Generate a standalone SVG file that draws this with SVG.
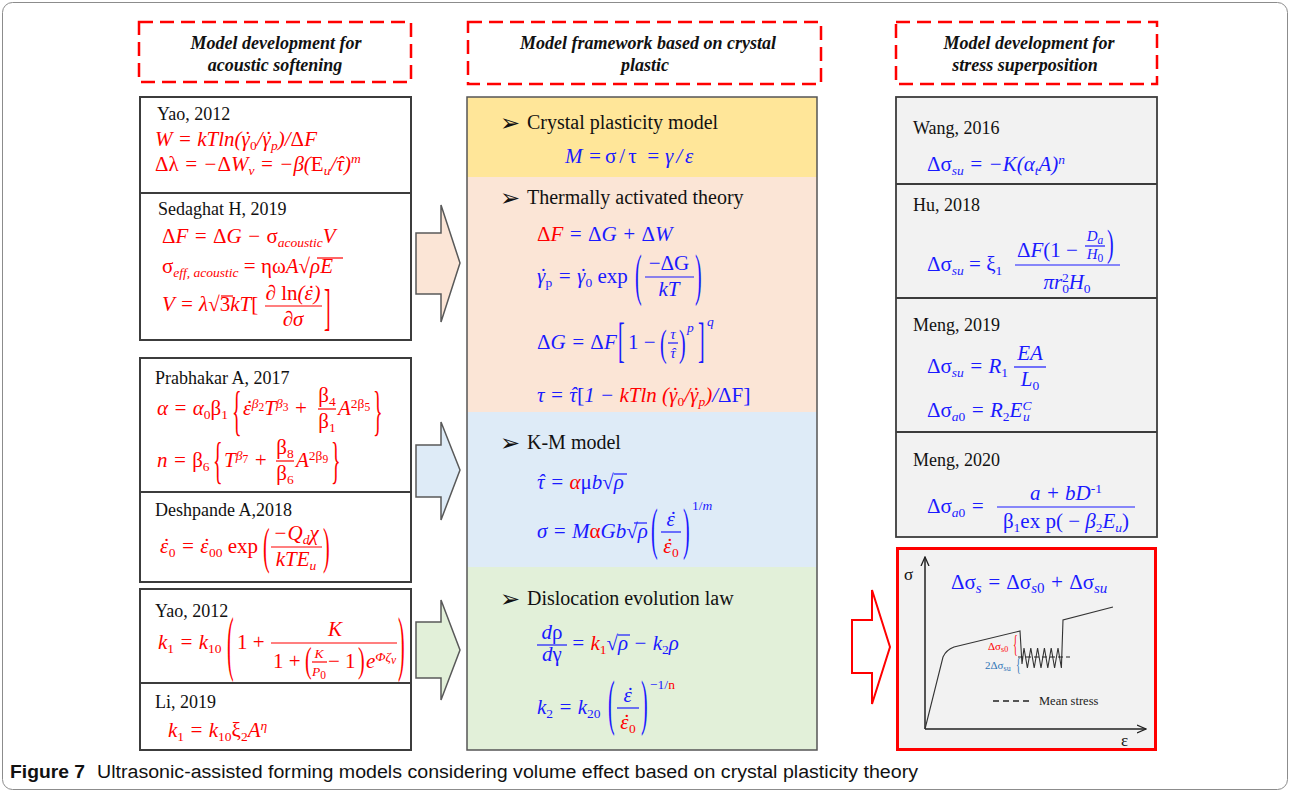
<svg xmlns="http://www.w3.org/2000/svg" width="1290" height="794" viewBox="0 0 1290 794">
<style>
text{font-family:"Liberation Serif",serif}
.au{font-size:18px;fill:#111}
.bl{font-size:20px;fill:#111}
.bu{font-family:"DejaVu Sans",sans-serif;font-size:24px;fill:#111}
.hd{font-size:18px;font-weight:bold;font-style:italic;fill:#111;text-anchor:middle}
.m{font-family:"Liberation Serif",serif;font-size:21px;font-style:italic}
.u{font-style:normal}
.s{font-size:13.5px}
.x{font-size:11.5px}
.sm{font-size:15px}
.r{fill:#ff0000}
.b{fill:#1a1aff}
.c{text-anchor:middle}
.d{font-family:"Liberation Serif",serif;font-size:20px;font-style:normal}
.lr{stroke:#ff0000;stroke-width:1.2}
.lb{stroke:#1a1aff;stroke-width:1.2}
.box{fill:#fff;stroke:#3c3c3c;stroke-width:2}
.div{stroke:#3c3c3c;stroke-width:2}
.dash{fill:none;stroke:#ff0000;stroke-width:2.5;stroke-dasharray:14 7}
.arr{stroke:#595959;stroke-width:1.5}
</style>
<defs>
<marker id="ah" viewBox="0 0 10 10" refX="9" refY="5" markerUnits="userSpaceOnUse" markerWidth="10" markerHeight="10" orient="auto"><path d="M0,1 L9,5 L0,9" fill="none" stroke="#222" stroke-width="1.3"/></marker>
</defs>
<rect x="2.5" y="2.5" width="1285" height="787" rx="10" fill="#fff" stroke="#8c8c8c" stroke-width="1"/>

<g id="hdr-left"><rect class="dash" x="139" y="22" width="272" height="60"/><text class="hd" x="276" y="49">Model development for</text><text class="hd" x="275" y="71">acoustic softening</text></g>
<g id="hdr-mid"><rect class="dash" x="468" y="22" width="353" height="62"/><text class="hd" x="648" y="49">Model framework based on crystal</text><text class="hd" x="645" y="71">plastic</text></g>
<g id="hdr-right"><rect class="dash" x="896" y="22" width="261" height="62"/><text class="hd" x="1029" y="49">Model development for</text><text class="hd" x="1025" y="71">stress superposition</text></g>

<g id="left-box1">
<rect class="box" x="140" y="97" width="271" height="243"/>
<line class="div" x1="140" y1="193" x2="411" y2="193"/>
<text class="au" x="157" y="120">Yao, 2012</text>
<text class="m r" x="155" y="146">W = kTln(γ<tspan dx="-6.8">˙</tspan><tspan class="s u" dy="4">0</tspan><tspan dy="-4">/γ</tspan><tspan dx="-6.8">˙</tspan><tspan class="s" dy="4">p</tspan><tspan dy="-4">)/</tspan><tspan class="u">Δ</tspan>F</text>
<text class="m r" x="155" y="171"><tspan class="u">Δλ</tspan> = −<tspan class="u">Δ</tspan>W<tspan class="s" dy="4">v</tspan><tspan dy="-4"> = −β(</tspan><tspan class="u">E</tspan><tspan class="s" dy="4">u</tspan><tspan dy="-4">/τ</tspan><tspan dx="-6.8">ˆ</tspan><tspan>)</tspan><tspan class="s" dy="-8">m</tspan></text>
<text class="au" x="158" y="215">Sedaghat H, 2019</text>
<text class="m r" x="162" y="243"><tspan class="u">Δ</tspan>F = <tspan class="u">Δ</tspan>G − <tspan class="u">σ</tspan><tspan class="s" dy="4">acoustic</tspan><tspan dy="-4">V</tspan></text>
<text class="m r" x="162" y="273"><tspan class="u">σ</tspan><tspan class="s" dy="4">eff, acoustic</tspan><tspan dy="-4" class="u"> = ηω</tspan>A<tspan class="u">√</tspan>ρE</text>
<line class="lr" x1="317" y1="258" x2="343" y2="258"/>
<text class="m r" x="162" y="311">V = λ<tspan class="u">√3</tspan>kT<tspan class="u">[</tspan></text>
<line class="lr" x1="221" y1="296" x2="233" y2="296"/>
<text class="m r c" x="293" y="300">∂ <tspan class="u">ln</tspan>(ε<tspan dx="-6.5">˙</tspan>)</text>
<line class="lr" x1="265" y1="306" x2="322" y2="306"/>
<text class="m r c" x="293" y="326">∂σ</text>
<text class="d r" transform="translate(324,324) scale(1,2.56)">]</text>
</g>

<g id="left-box2">
<rect class="box" x="140" y="358" width="271" height="224"/>
<line class="div" x1="140" y1="492" x2="411" y2="492"/>
<text class="au" x="155" y="384">Prabhakar A, 2017</text>
<text class="m r" x="157" y="415">α = α<tspan class="s u" dy="4">0</tspan><tspan dy="-4" class="u">β</tspan><tspan class="s u" dy="4">1</tspan></text>
<text class="d r" transform="translate(232,428.5) scale(1,2.75)">{</text>
<text class="m r" x="243" y="415">ε<tspan dx="-6.5">˙</tspan><tspan class="s" dy="-7">β</tspan><tspan class="x u" dy="3">2</tspan><tspan dy="4">T</tspan><tspan class="s" dy="-7">β</tspan><tspan class="x u" dy="3">3</tspan><tspan dy="4"> + </tspan></text>
<text class="m r u c" x="327" y="402">β<tspan class="s" dy="4">4</tspan></text>
<line class="lr" x1="318" y1="409" x2="336" y2="409"/>
<text class="m r u c" x="327" y="428">β<tspan class="s" dy="4">1</tspan></text>
<text class="m r" x="338" y="415">A<tspan class="s u" dy="-7">2β</tspan><tspan class="x u" dy="3">5</tspan></text>
<text class="d r" transform="translate(373,428.5) scale(1,2.75)">}</text>
<text class="m r" x="157" y="467">n = <tspan class="u">β</tspan><tspan class="s u" dy="4">6</tspan></text>
<text class="d r" transform="translate(213,477) scale(1,2.5)">{</text>
<text class="m r" x="224" y="467">T<tspan class="s" dy="-7">β</tspan><tspan class="x u" dy="3">7</tspan><tspan dy="4"> + </tspan></text>
<text class="m r u c" x="285" y="454">β<tspan class="s" dy="4">8</tspan></text>
<line class="lr" x1="276" y1="461" x2="294" y2="461"/>
<text class="m r u c" x="285" y="480">β<tspan class="s" dy="4">6</tspan></text>
<text class="m r" x="296" y="467">A<tspan class="s u" dy="-7">2β</tspan><tspan class="x u" dy="3">9</tspan></text>
<text class="d r" transform="translate(331,477) scale(1,2.5)">}</text>
<text class="au" x="155" y="516">Deshpande A,2018</text>
<text class="m r" x="160" y="553">ε<tspan dx="-6.5">˙</tspan><tspan class="s u" dy="4">0</tspan><tspan dy="-4"> = ε</tspan><tspan dx="-6.5">˙</tspan><tspan class="s u" dy="4">00</tspan><tspan dy="-4" class="u"> exp</tspan></text>
<text class="d r" transform="translate(263,563) scale(1,2.5)">(</text>
<text class="m r c" x="296" y="540">−Q<tspan class="s" dy="4">d</tspan><tspan dy="-4">χ</tspan></text>
<line class="lr" x1="271" y1="547" x2="322" y2="547"/>
<text class="m r c" x="296" y="566">kTE<tspan class="s" dy="4">u</tspan></text>
<text class="d r" transform="translate(323,563) scale(1,2.5)">)</text>
</g>

<g id="left-box3">
<rect class="box" x="140" y="589" width="271" height="161"/>
<line class="div" x1="140" y1="683" x2="411" y2="683"/>
<text class="au" x="155" y="617">Yao, 2012</text>
<text class="m r" x="158" y="649">k<tspan class="s u" dy="4">1</tspan><tspan dy="-4"> = k</tspan><tspan class="s u" dy="4">10</tspan></text>
<text class="d r" transform="translate(227,667) scale(1,3.6)">(</text>
<text class="m r u" x="237" y="649">1 +</text>
<text class="m r c" x="335" y="636">K</text>
<line class="lr" x1="271" y1="643" x2="397" y2="643"/>
<text class="m r u" x="273" y="668">1 + </text>
<text class="d r" transform="translate(305,672) scale(1,1.74)">(</text>
<text class="m r c s" x="319" y="658">K</text>
<line class="lr" x1="312" y1="662" x2="327" y2="662"/>
<text class="m r c s" x="319" y="676">P<tspan class="x u" dy="3">0</tspan></text>
<text class="m r u" x="328" y="668"> − 1</text>
<text class="d r" transform="translate(358,672) scale(1,1.74)">)</text>
<text class="m r" x="366" y="668">e<tspan class="s" dy="-7">Φζ</tspan><tspan class="x" dy="3">v</tspan></text>
<text class="d r" transform="translate(398,667) scale(1,3.6)">)</text>
<text class="au" x="155" y="708">Li, 2019</text>
<text class="m r" x="168" y="737">k<tspan class="s u" dy="4">1</tspan><tspan dy="-4"> = k</tspan><tspan class="s u" dy="4">10</tspan><tspan dy="-4" class="u">ξ</tspan><tspan class="s u" dy="4">2</tspan><tspan dy="-4">A</tspan><tspan class="s" dy="-7">η</tspan></text>
</g>

<g id="mid-framework">
<rect x="467" y="97" width="350" height="80" fill="#FFE699"/>
<rect x="467" y="177" width="350" height="235" fill="#FBE5D6"/>
<rect x="467" y="412" width="350" height="155" fill="#DEEBF7"/>
<rect x="467" y="567" width="350" height="183" fill="#E2F0D9"/>
<rect x="467" y="97" width="350" height="653" fill="none" stroke="#555" stroke-width="1.5"/>
<text class="bu" x="500" y="131">➢</text><text class="bl" x="527" y="129">Crystal plasticity model</text>
<text class="m b" y="163"><tspan x="565">M =</tspan><tspan x="605" class="u" style="letter-spacing:3px">σ/τ</tspan><tspan x="646">=</tspan><tspan x="665" style="letter-spacing:3px">γ/ε</tspan></text>
<text class="bu" x="500" y="206">➢</text><text class="bl" x="527" y="204">Thermally activated theory</text>
<text class="m b" x="537" y="241"><tspan class="r"><tspan class="u">Δ</tspan>F</tspan> = <tspan class="u">Δ</tspan>G + <tspan class="u">Δ</tspan>W</text>
<text class="m b" x="537" y="283">γ<tspan dx="-6.8">˙</tspan><tspan class="s u" dy="4">p</tspan><tspan dy="-4"> = γ</tspan><tspan dx="-6.8">˙</tspan><tspan class="s u" dy="4">0</tspan><tspan dy="-4" class="u"> exp</tspan></text>
<text class="d b" transform="translate(635,293.7) scale(1,2.85)">(</text>
<text class="m b u c" x="669" y="270">−ΔG</text>
<line class="lb" x1="645" y1="277" x2="694" y2="277"/>
<text class="m b c" x="669" y="296">kT</text>
<text class="d b" transform="translate(695,293.7) scale(1,2.85)">)</text>
<text class="m b" x="537" y="349"><tspan class="u">Δ</tspan>G = <tspan class="u">Δ</tspan>F</text>
<text class="d b" transform="translate(618,356.4) scale(1,2.46)">[</text>
<text class="m b u" x="628" y="349">1 −</text>
<text class="d b" transform="translate(660,356) scale(1,1.92)">(</text>
<text class="m b c sm" x="673" y="339">τ</text>
<line class="lb" x1="668" y1="343" x2="678" y2="343"/>
<text class="m b c sm" x="673" y="358">τ<tspan dx="-4.9">ˆ</tspan></text>
<text class="d b" transform="translate(679,356) scale(1,1.92)">)</text>
<text class="m b s" x="687" y="332">p</text>
<text class="d b" transform="translate(698,356.4) scale(1,2.46)">]</text>
<text class="m b s" x="707" y="326">q</text>
<text class="m b" x="537" y="402">τ = τ<tspan dx="-6.8">ˆ</tspan><tspan class="u" style="font-size:22px">[</tspan>1 − <tspan class="r">kTln (γ<tspan dx="-6.8">˙</tspan><tspan class="s u" dy="4">0</tspan><tspan dy="-4">/γ</tspan><tspan dx="-6.8">˙</tspan><tspan class="s" dy="4">p</tspan><tspan dy="-4">)</tspan></tspan>/<tspan class="u">ΔF</tspan><tspan class="u" style="font-size:22px">]</tspan></text>
<text class="bu" x="500" y="451">➢</text><text class="bl" x="527" y="449">K-M model</text>
<text class="m b" x="537" y="489">τ<tspan dx="-6.8">ˆ</tspan> = <tspan class="r">α</tspan><tspan class="u">μ</tspan>b<tspan class="u">√</tspan>ρ</text>
<line class="lb" x1="614" y1="474" x2="627" y2="474"/>
<text class="m b" x="537" y="538">σ = M<tspan class="r u">α</tspan>Gb<tspan class="u">√</tspan>ρ</text>
<line class="lb" x1="634" y1="523" x2="647" y2="523"/>
<text class="d b" transform="translate(651,547.6) scale(1,2.9)">(</text>
<text class="m b c" x="671" y="526">ε<tspan dx="-6.5">˙</tspan></text>
<line class="lb" x1="661" y1="532" x2="681" y2="532"/>
<text class="m r c" x="671" y="553">ε<tspan dx="-6.5">˙</tspan><tspan class="s u" dy="4">0</tspan></text>
<text class="d b" transform="translate(683,547.6) scale(1,2.9)">)</text>
<text class="m b s" x="692" y="510"><tspan class="u">1/</tspan>m</text>
<text class="bu" x="500" y="607">➢</text><text class="bl" x="527" y="605">Dislocation evolution law</text>
<text class="m b c" x="552" y="639">d<tspan class="u">ρ</tspan></text>
<line class="lb" x1="537" y1="645" x2="567" y2="645"/>
<text class="m b c" x="552" y="661">d<tspan class="u">γ</tspan></text>
<text class="m b" x="571" y="650">= <tspan class="r">k<tspan class="s u" dy="4">1</tspan></tspan><tspan dy="-4" class="u">√</tspan>ρ − k<tspan class="s u" dy="4">2</tspan><tspan dy="-4">ρ</tspan></text>
<line class="lb" x1="618" y1="635" x2="630" y2="635"/>
<text class="m b" x="537" y="714">k<tspan class="s u" dy="4">2</tspan><tspan dy="-4"> = k</tspan><tspan class="s u" dy="4">20</tspan></text>
<text class="d b" transform="translate(608,723.1) scale(1,3.02)">(</text>
<text class="m b c" x="628" y="702">ε<tspan dx="-6.5">˙</tspan></text>
<line class="lb" x1="617" y1="708" x2="639" y2="708"/>
<text class="m r c" x="628" y="729">ε<tspan dx="-6.5">˙</tspan><tspan class="s u" dy="4">0</tspan></text>
<text class="d b" transform="translate(641,723.1) scale(1,3.02)">)</text>
<text class="m b s u" x="650" y="689">−1/<tspan class="r">n</tspan></text>
</g>

<g id="right-box">
<rect x="896" y="97" width="261" height="440" fill="#F2F2F2" stroke="#3c3c3c" stroke-width="1.8"/>
<line class="div" x1="896" y1="184" x2="1157" y2="184"/>
<line class="div" x1="896" y1="298" x2="1157" y2="298"/>
<line class="div" x1="896" y1="432" x2="1157" y2="432"/>
<text class="au" x="913" y="134">Wang, 2016</text>
<text class="m b" x="927" y="171"><tspan class="u">Δσ</tspan><tspan class="s" dy="4">su</tspan><tspan dy="-4"> = −K(α</tspan><tspan class="s" dy="4">t</tspan><tspan dy="-4">A)</tspan><tspan class="s" dy="-7">n</tspan></text>
<text class="au" x="913" y="211">Hu, 2018</text>
<text class="m b" x="927" y="271"><tspan class="u">Δσ</tspan><tspan class="s" dy="4">su</tspan><tspan dy="-4" class="u"> = ξ</tspan><tspan class="s u" dy="4">1</tspan></text>
<text class="m b" x="1017" y="257"><tspan class="u">Δ</tspan>F<tspan class="u">(1 −</tspan></text>
<text class="m b c sm" x="1095" y="241">D<tspan class="x" dy="3">a</tspan></text>
<line class="lb" x1="1085" y1="246" x2="1105" y2="246"/>
<text class="m b c sm" x="1095" y="259">H<tspan class="x u" dy="3">0</tspan></text>
<text class="d b" transform="translate(1107,256.3) scale(1,1.86)">)</text>
<line class="lb" x1="1015" y1="265" x2="1120" y2="265"/>
<text class="m b c" x="1067" y="289">πr<tspan class="s u" dy="4">0</tspan><tspan class="s u" dx="-7" dy="-11">2</tspan><tspan dy="7">H</tspan><tspan class="s u" dy="4">0</tspan></text>
<text class="au" x="913" y="331">Meng, 2019</text>
<text class="m b" x="927" y="373"><tspan class="u">Δσ</tspan><tspan class="s" dy="4">su</tspan><tspan dy="-4"> = R</tspan><tspan class="s u" dy="4">1</tspan></text>
<text class="m b c" x="1030" y="360">EA</text>
<line class="lb" x1="1014" y1="367" x2="1046" y2="367"/>
<text class="m b c" x="1030" y="386">L<tspan class="s u" dy="4">0</tspan></text>
<text class="m b" x="927" y="417"><tspan class="u">Δσ</tspan><tspan class="s" dy="4">a<tspan class="u">0</tspan></tspan><tspan dy="-4"> = R</tspan><tspan class="s u" dy="4">2</tspan><tspan dy="-4">E</tspan><tspan class="s" dy="-7">C</tspan><tspan class="s" dx="-8.4" dy="11">u</tspan></text>
<text class="au" x="913" y="466">Meng, 2020</text>
<text class="m b" x="927" y="513"><tspan class="u">Δσ</tspan><tspan class="s" dy="4">a<tspan class="u">0</tspan></tspan><tspan dy="-4"> =</tspan></text>
<text class="m b c" x="1066" y="500">a + bD<tspan class="s u" dy="-7">-1</tspan></text>
<line class="lb" x1="997" y1="507" x2="1135" y2="507"/>
<text class="m b c" x="1066" y="528"><tspan class="u">β</tspan><tspan class="s u" dy="4">1</tspan><tspan class="u" dy="-4">ex p( − </tspan>β<tspan class="s u" dy="4">2</tspan><tspan dy="-4">E</tspan><tspan class="s" dy="4">u</tspan><tspan dy="-4" class="u">)</tspan></text>
</g>

<g id="graph-box">
<rect x="897.5" y="548.5" width="258" height="201" fill="#F2F2F2" stroke="#ff0000" stroke-width="3"/>
<text class="m b" x="951" y="589" style="font-size:21px"><tspan class="u">Δσ</tspan><tspan class="sm" dy="4">s</tspan><tspan dy="-4"> = </tspan><tspan class="u">Δσ</tspan><tspan class="sm" dy="4">s<tspan class="u">0</tspan></tspan><tspan dy="-4"> + </tspan><tspan class="u">Δσ</tspan><tspan class="sm" dy="4">su</tspan></text>
<line x1="925" y1="729" x2="925" y2="557" stroke="#222" stroke-width="1.5" marker-end="url(#ah)"/>
<line x1="925" y1="729" x2="1146" y2="729" stroke="#222" stroke-width="1.5" marker-end="url(#ah)"/>
<text x="904" y="580" style="font-size:17px;fill:#111">σ</text>
<text x="1121" y="746" style="font-size:17px;fill:#111">ε</text>
<path d="M925,729 L943,657 Q946,650 954,647 L1020,631 L1022,664 L1024,648 L1027.4,668 L1030.8,648 L1034.2,668 L1037.6,648 L1041,668 L1044.4,648 L1047.8,668 L1051.2,648 L1054.6,668 L1058,648 L1061.4,668 L1063,620 L1113,607" fill="none" stroke="#333" stroke-width="1.1"/>
<line x1="1018" y1="657" x2="1070" y2="657" stroke="#222" stroke-width="1.2" stroke-dasharray="5 3"/>
<text x="988" y="650" style="font-size:11px;fill:#ff0000">Δσ<tspan style="font-size:8px" dy="2">s0</tspan></text>
<text transform="translate(1013,651.5) scale(1,2.6)" style="font-size:10px;fill:#ff0000">{</text>
<text x="985" y="669" style="font-size:11px;fill:#2e75b6">2Δσ<tspan style="font-size:8px" dy="2">su</tspan></text>
<text transform="translate(1016,671) scale(1,1.9)" style="font-size:10px;fill:#2e75b6">{</text>
<line x1="993" y1="701" x2="1030" y2="701" stroke="#222" stroke-width="1.5" stroke-dasharray="6 4"/>
<text x="1039" y="705" style="font-size:12.5px;fill:#222">Mean stress</text>
</g>

<g id="connectors">
<polygon points="416,233 441,233 441,205 460,263 441,322 441,294 416,294" fill="#FBE5D6" class="arr"/>
<polygon points="416,445 441,445 441,422 460,470 441,520 441,497 416,497" fill="#DEEBF7" class="arr"/>
<polygon points="416,622 441,622 441,600 460,650 441,700 441,678 416,678" fill="#E2F0D9" class="arr"/>
<polygon points="852,620 872,620 872,590 890,647 872,704 872,673 852,673" fill="#fff" stroke="#ff0000" stroke-width="2"/>
</g>

<g id="caption">
<text x="10" y="778" style="font-family:'Liberation Sans',sans-serif;font-size:18px;font-weight:bold;fill:#111" textLength="75" lengthAdjust="spacingAndGlyphs">Figure 7</text>
<text x="97" y="778" style="font-family:'Liberation Sans',sans-serif;font-size:18px;fill:#111" textLength="821" lengthAdjust="spacingAndGlyphs">Ultrasonic-assisted forming models considering volume effect based on crystal plasticity theory</text>
</g>
</svg>
